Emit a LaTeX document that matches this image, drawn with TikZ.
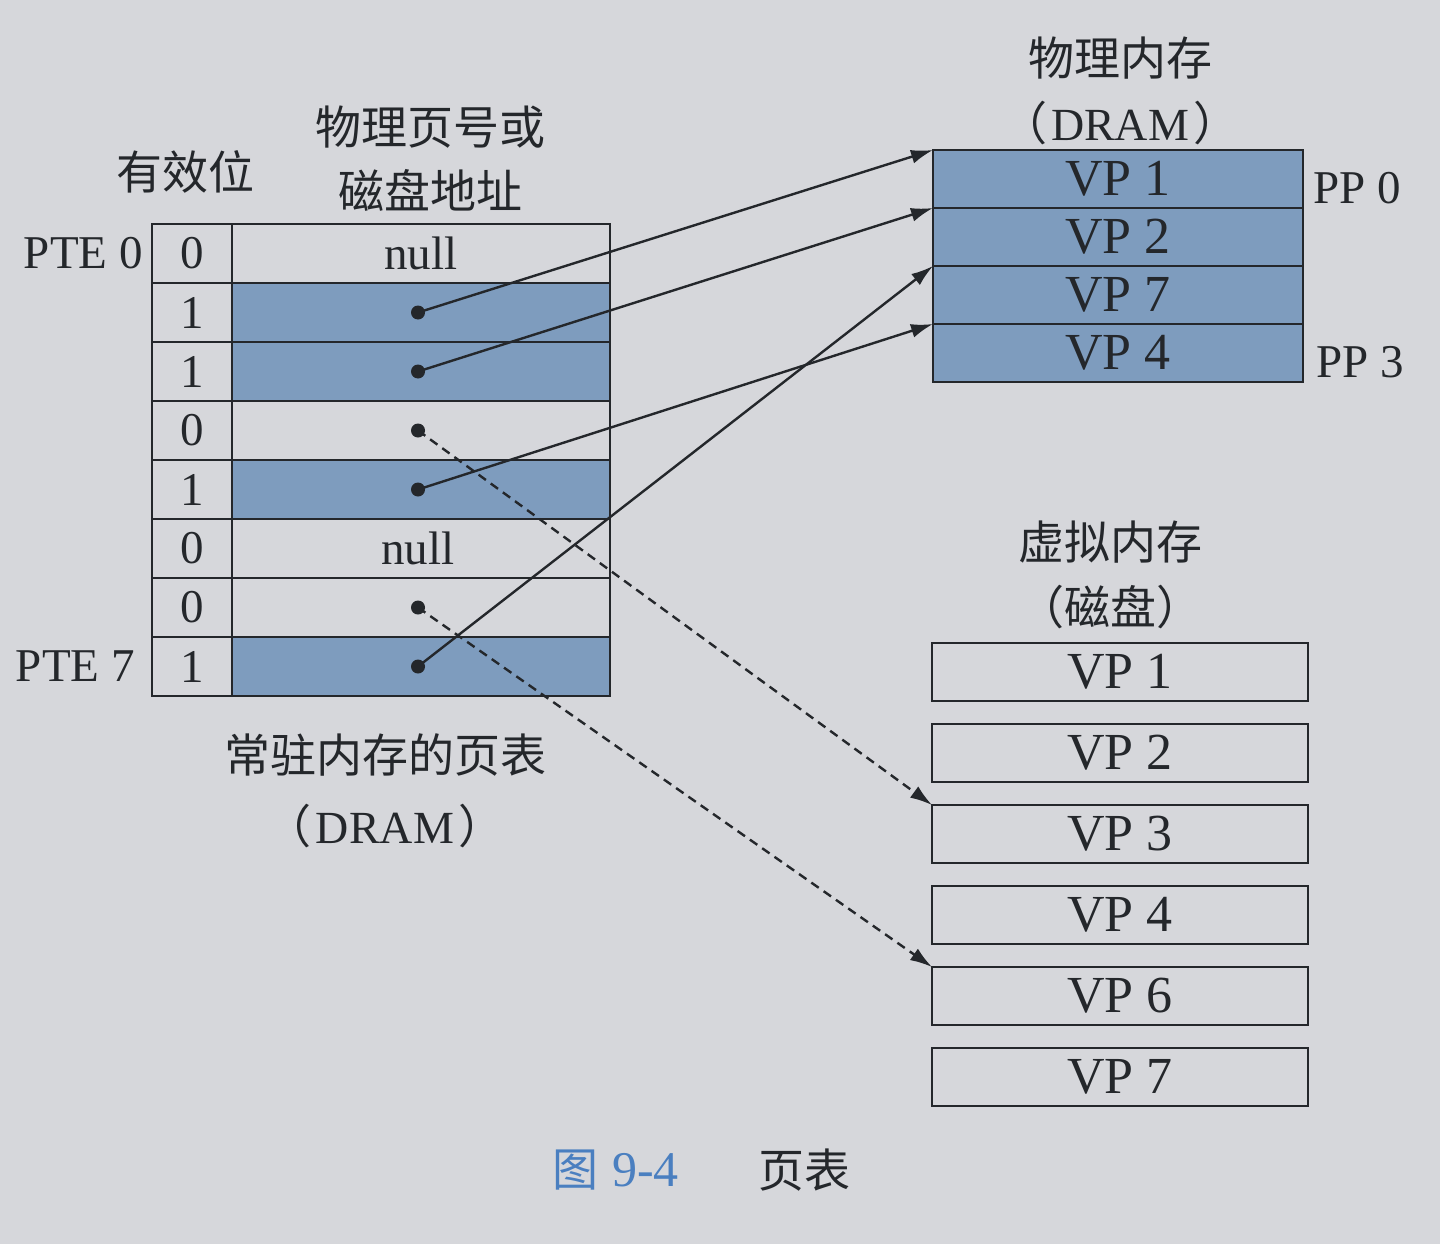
\documentclass[tikz,border=0pt]{standalone}
\usepackage{fontspec}
\setmainfont{Liberation Serif}
\newfontfamily\cjk{Noto Sans CJK SC}
\usetikzlibrary{arrows.meta}
\definecolor{bg}{HTML}{D6D7DB}
\definecolor{pgblue}{HTML}{7E9CBE}
\definecolor{ink}{HTML}{24272B}
\definecolor{capblue}{HTML}{4A7FC0}
\newcommand\szA{\fontsize{47pt}{52pt}\selectfont}
\newcommand\szB{\fontsize{46pt}{52pt}\selectfont}
\newcommand\szC{\fontsize{52pt}{58pt}\selectfont}
\newcommand\fwl{{\cjk （}\hspace{4pt}}
\newcommand\fwr{\hspace{4pt}{\cjk ）}}
\begin{document}
\begin{tikzpicture}[x=1pt,y=-1pt,
  cell/.style={draw=ink,line width=2.8pt,minimum height=59pt,inner sep=0pt,outer sep=0pt,text=ink,font=\szA},
  memcell/.style={draw=ink,line width=2.8pt,minimum width=370pt,minimum height=58pt,inner sep=0pt,outer sep=0pt,fill=pgblue,text=ink,font=\szC},
  diskcell/.style={draw=ink,line width=2.8pt,minimum width=376pt,minimum height=58pt,inner sep=0pt,outer sep=0pt,fill=bg,text=ink,font=\szC},
  dot/.style={circle,fill=ink,inner sep=0pt,minimum size=14pt},
  lbl/.style={text=ink,font=\szA,inner sep=0pt},
  cjklbl/.style={text=ink,font=\cjk\szB,inner sep=0pt},
  arr/.style={draw=ink,line width=2.4pt,-{Latex[length=22pt,width=14pt]}},
  darr/.style={arr,dash pattern=on 9pt off 6pt}]
\fill[bg] (0,0) rectangle (1440,1244);
\useasboundingbox (0,0) rectangle (1440,1244);

% page table
\foreach \i/\v/\f in {0/0/bg,1/1/pgblue,2/1/pgblue,3/0/bg,4/1/pgblue,5/0/bg,6/0/bg,7/1/pgblue}{
  \node[cell,minimum width=80pt,fill=bg] (v\i) at (192,{253.5+59*\i}) {\v};
  \node[cell,minimum width=378pt,fill=\f] (a\i) at (421,{253.5+59*\i}) {};
}
\node[lbl] (n0) at (421,253.5) {null};
\node[lbl] (n5) at (418,548.5) {null};
\foreach \i in {1,2,3,4,6,7}{
  \node[dot] (d\i) at (418,{253.5+59*\i}) {};
}
\node[lbl,anchor=east] (pte0) at (143,253.5) {PTE 0};
\node[lbl,anchor=east] (pte7) at (135,666.5) {PTE 7};
\node[cjklbl] (valid) at (185,172) {有效位};
\node[cjklbl] (hdr1) at (430,127) {物理页号或};
\node[cjklbl] (hdr2) at (430,190) {磁盘地址};
\node[cjklbl] (pt1) at (385,755) {常驻内存的页表};
\node[lbl,font=\szB] (pt2) at (385,826) {\fwl DRAM\fwr};

% physical memory
\node[memcell] (p0) at (1118,179) {VP 1};
\node[memcell] (p1) at (1118,237) {VP 2};
\node[memcell] (p2) at (1118,295) {VP 7};
\node[memcell] (p3) at (1118,353) {VP 4};
\node[lbl,anchor=west] (pp0) at (1313,188) {PP 0};
\node[lbl,anchor=west] (pp3) at (1316,362) {PP 3};
\node[cjklbl] (pm1) at (1120,58) {物理内存};
\node[lbl,font=\szB] (pm2) at (1120,123) {\fwl DRAM\fwr};

% virtual memory (disk)
\node[diskcell] (k0) at (1120,672) {VP 1};
\node[diskcell] (k1) at (1120,753) {VP 2};
\node[diskcell] (k2) at (1120,834) {VP 3};
\node[diskcell] (k3) at (1120,915) {VP 4};
\node[diskcell] (k4) at (1120,996) {VP 6};
\node[diskcell] (k5) at (1120,1077) {VP 7};
\node[cjklbl] (vm1) at (1110,542) {虚拟内存};
\node[cjklbl] (vm2) at (1110,607) {（磁盘）};

% connectors
\draw[arr] (d1.center) -- (p0.north west);
\draw[arr] (d2.center) -- (p1.north west);
\draw[arr] (d4.center) -- (p3.north west);
\draw[arr] (d7.center) -- (p2.north west);
\draw[darr] (d3.center) -- (k2.north west);
\draw[darr] (d6.center) -- (k4.north west);

% caption
\node[cjklbl,text=capblue,anchor=west] (cap1) at (552,1170) {图\hspace{14pt}{\rmfamily\fontsize{50pt}{56pt}\selectfont 9-4}};
\node[cjklbl,anchor=west] (cap2) at (758,1170) {页表};
\end{tikzpicture}
\end{document}
